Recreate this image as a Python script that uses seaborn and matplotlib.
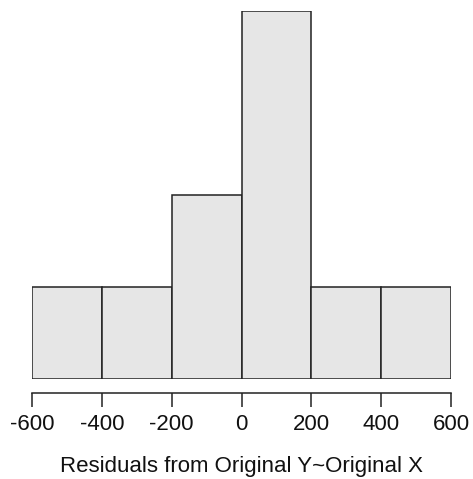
import matplotlib
matplotlib.use("Agg")
import matplotlib.pyplot as plt
import seaborn as sns
import numpy as np

# Histogram bins of the residuals and their counts
bin_edges = [-600, -400, -200, 0, 200, 400, 600]
bin_mids = [-500, -300, -100, 100, 300, 500]
counts = [1, 1, 2, 4, 1, 1]
tick_values = [-600, -400, -200, 0, 200, 400, 600]
tick_labels = ["-600", "-400", "-200", "0", "200", "400", "600"]
x_label = "Residuals from Original Y~Original X"

sns.set_style("white")
plt.rcParams["font.family"] = ["Liberation Sans", "DejaVu Sans"]

fig = plt.figure(figsize=(4.73, 4.79), dpi=100)
ax = fig.add_axes([32 / 473, 100 / 479, 419 / 473, 368 / 479])

sns.histplot(x=bin_mids, weights=counts, bins=bin_edges, ax=ax,
             color="#E6E6E6", edgecolor="#222222", linewidth=1.1, alpha=1)

ax.set_xlim(-600, 600)
ax.set_ylim(0, 4)
ax.set_ylabel("")
ax.set_yticks([])
for s in ["left", "top", "right"]:
    ax.spines[s].set_visible(False)
ax.spines["bottom"].set_position(("outward", 10))
ax.spines["bottom"].set_bounds(-600, 600)
ax.spines["bottom"].set_color("#222222")
ax.spines["bottom"].set_linewidth(1.1)
ax.set_xticks(tick_values)
ax.set_xticklabels(tick_labels, fontsize=16)
ax.tick_params(axis="x", bottom=True, length=10, width=1.1, color="#222222",
               pad=5.5, labelcolor="#111111")
ax.set_xlabel(x_label, fontsize=16, color="#111111", labelpad=15)

fig.savefig("out.png", dpi=100)
